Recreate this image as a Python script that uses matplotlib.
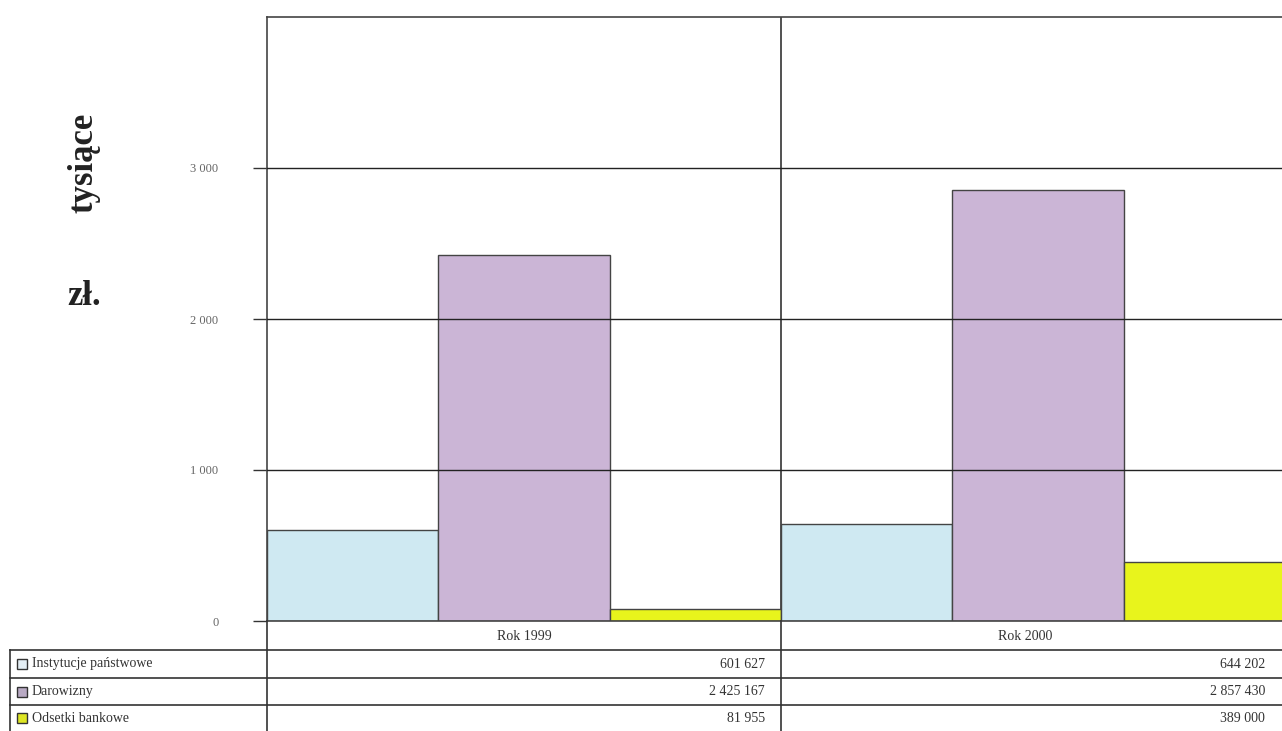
import matplotlib.pyplot as plt
import numpy as np
from matplotlib.lines import Line2D

# data (thousands of zł)
years = ["Rok 1999", "Rok 2000"]
series = ["Instytucje państwowe", "Darowizny", "Odsetki bankowe"]
values_1999 = [601.627, 2425.167, 81.955]
values_2000 = [644.202, 2857.430, 389.000]
table_1999 = ["601 627", "2 425 167", "81 955"]
table_2000 = ["644 202", "2 857 430", "389 000"]
colors = ["#cfe9f2", "#cbb5d6", "#e8f41c"]
legend_colors = ["#e4eef4", "#b9aac4", "#dde524"]

W, H = 1282, 731
plt.rcParams['font.family'] = ['Liberation Serif', 'DejaVu Serif']
fig = plt.figure(figsize=(W / 100, H / 100), dpi=100)

def fx(px):
    return px / W

def fy(py):
    return 1 - py / H

# plot area, right edge runs off the page like in the scan
left, right, top, bottom = 267, 1295, 17, 621
ax = fig.add_axes([fx(left), fy(bottom), fx(right - left), (bottom - top) / H])

vals = np.array([values_1999, values_2000])
for i in range(len(years)):
    for j in range(len(series)):
        ax.bar(i * 3 + j + 0.5, vals[i, j], width=1.0, color=colors[j],
               edgecolor="#444444", linewidth=1.0, zorder=2)

ax.set_xlim(0, 6)
ax.set_ylim(0, 4000)
ax.set_yticks([0, 1000, 2000, 3000])
ax.set_yticklabels(["0", "1 000", "2 000", "3 000"], fontsize=9, color="#666666")
ax.tick_params(axis="y", length=10, width=1, color="#333333", pad=25)
ax.set_xticks([])
for y in [1000, 2000, 3000]:
    ax.axhline(y, color="#222222", lw=1, zorder=3)
ax.axvline(3, color="#333333", lw=1.2, zorder=1)
for s in ax.spines.values():
    s.set_color("#444444")
    s.set_linewidth(1.2)

fig.text(fx(84), fy(163), "tysiące", rotation=90, ha="center", va="center",
         fontsize=25, fontweight="bold", color="#222222")
fig.text(fx(84), fy(297), "zł.", ha="center", va="center",
         fontsize=25, fontweight="bold", color="#222222")

# data table below the chart
def hline(py, x0, x1, lw=1.2):
    fig.add_artist(Line2D([fx(x0), fx(x1)], [fy(py), fy(py)], color="#333333", lw=lw))

def vline(px, y0, y1, lw=1.2):
    fig.add_artist(Line2D([fx(px), fx(px)], [fy(y0), fy(y1)], color="#333333", lw=lw))

row_lines = [650, 678, 705, 731]
for py in row_lines[:-1]:
    hline(py, 10, W)
vline(10, 650, 731)
vline(267, 621, 731)
vline(781, 621, 731)

col_centers = [524, 1025]
for k, yr in enumerate(years):
    fig.text(fx(col_centers[k]), fy(636), yr, ha="center", va="center",
             fontsize=10, color="#333333")

col_right = [765, 1265]
for r in range(len(series)):
    yc = (row_lines[r] + row_lines[r + 1]) / 2
    fig.add_artist(plt.Rectangle((fx(17), fy(yc + 5)), fx(10), 10 / H,
                                 facecolor=legend_colors[r], edgecolor="#333333", lw=1))
    fig.text(fx(32), fy(yc), series[r], ha="left", va="center", fontsize=10, color="#333333")
    fig.text(fx(col_right[0]), fy(yc), table_1999[r], ha="right", va="center",
             fontsize=10, color="#333333")
    fig.text(fx(col_right[1]), fy(yc), table_2000[r], ha="right", va="center",
             fontsize=10, color="#333333")

fig.savefig("out.png", dpi=100)
